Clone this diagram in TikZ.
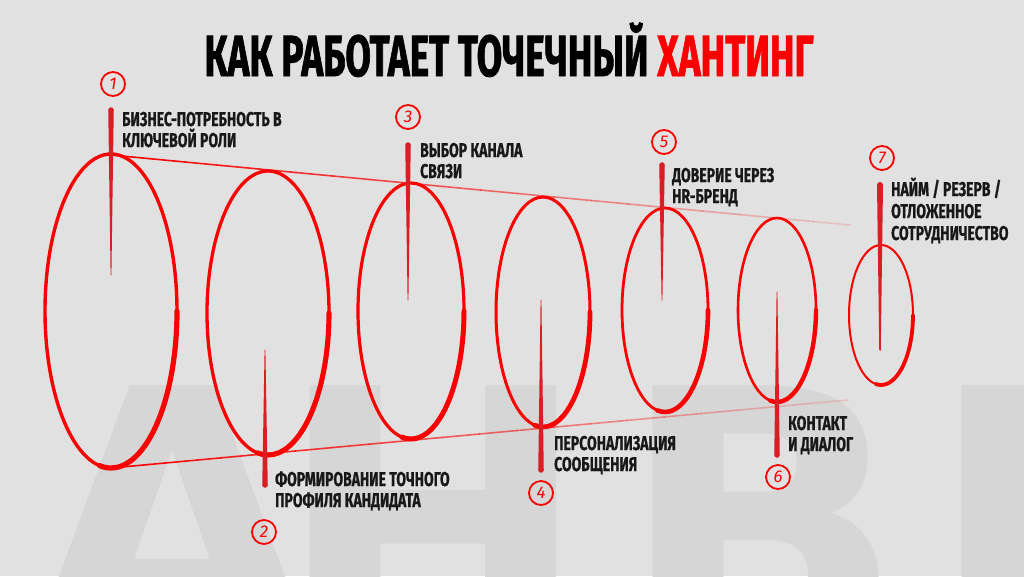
\documentclass[tikz,border=0pt]{standalone}
\usepackage{fontspec}
\usepackage{graphicx}
\setmainfont{Fira Sans}
\newfontfamily\condfont{Fira Sans}[FakeStretch=0.7, FakeBold=0.8]
\newfontfamily\titlefont{Fira Sans}[FakeBold=1.6]
\newfontfamily\wmfont{DejaVu Sans}
\usetikzlibrary{calc}

\definecolor{bg}{RGB}{225,225,225}
\definecolor{wmark}{RGB}{214,214,214}
\definecolor{red1}{RGB}{250,0,0}
\definecolor{red2}{RGB}{218,30,38}
\definecolor{ink}{RGB}{24,24,24}

\tikzstyle{ringline} = [draw=red1, line width=2.6pt]
\tikzstyle{ringthick} = [draw=red1, line width=4.6pt, line cap=round]
\tikzstyle{numcirc} = [circle, draw=red1, line width=1.8pt, minimum size=24pt, inner sep=0pt, text=red1, font=\itshape\fontsize{17}{17}\selectfont]
\tikzstyle{lbl} = [anchor=base west, align=left, inner sep=0pt, text=ink, font=\condfont\bfseries\fontsize{20}{21}\selectfont]
\tikzstyle{wm} = [anchor=base, inner sep=0pt, text=wmark, font=\wmfont\bfseries\fontsize{377}{377}\selectfont]

\begin{document}
\begin{tikzpicture}[x=1pt, y=-1pt]
    \useasboundingbox (0,0) rectangle (1024,576);
    \fill[bg] (0,0) rectangle (1024,576);

    % watermark
    \begin{scope}
        \clip (0,0) rectangle (1024,576);
        \node[wm] (w1) at (172,660) {А};
        \node[wm] (w2) at (433,660) {Н};
        \node[wm] (w3) at (762,660) {В};
        \node[wm] (w4) at (1085,660) {П};
    \end{scope}

    % title
    \node[anchor=base, inner sep=0pt] (title) at (509,76)
        {\resizebox{609pt}{\height}{\titlefont\bfseries\fontsize{58}{60}\selectfont КАК РАБОТАЕТ ТОЧЕЧНЫЙ \textcolor{red1}{ХАНТИНГ}}};

    % ellipses
    \foreach \cx/\cy/\rx/\ry/\w in {111/311/66/157/3.4, 268/313/61/142/3.3, 411/311/53/128/3.2,
                                  543/312/47/115/3.0, 665/310/43/102/2.8, 777/310/39/92/2.6, 881/315/32/70/2.0} {
        \draw[ringline, line width=\w pt] (\cx,\cy) ellipse [x radius=\rx, y radius=\ry];
        \draw[ringthick, line width=\w pt+1.8pt] (\cx,\cy) ++(0:\rx) arc [start angle=0, end angle=100, x radius=\rx, y radius=\ry];
    }

    % outline of the funnel
    \coordinate (t1) at (111,155);
    \coordinate (tend) at (850,225);
    \coordinate (b1) at (111,468);
    \coordinate (bend) at (848,400);
    \foreach \i in {0,...,19} {
        \pgfmathsetmacro{\op}{1-0.045*\i}
        \draw[red1, line width=1.6pt, opacity=\op] ($(t1)!\i/20!(tend)$) -- ($(t1)!\i/20+0.051!(tend)$);
        \draw[red1, line width=1.6pt, opacity=\op] ($(b1)!\i/20!(bend)$) -- ($(b1)!\i/20+0.051!(bend)$);
    }

    % brush marks
    \foreach \x/\ya/\wa/\yb/\wb in {111/110/5.5/275/0.8, 265/350/0.8/485/5.5, 408/145/5.5/300/0.8,
                                   541/300/0.8/470/5.5, 662/165/5.5/300/0.8, 777/292/0.8/455/5.5, 880/185/6/350/1.5} {
        \fill[red2] (\x-\wa/2,\ya) -- (\x+\wa/2,\ya) -- (\x+\wb/2,\yb) -- (\x-\wb/2,\yb) -- cycle;
        \fill[red2] (\x,\ya) circle (\wa/2);
        \fill[red2] (\x,\yb) circle (\wb/2);
    }

    % numbers
    \node[numcirc] (n1) at (113,84) {1};
    \node[numcirc] (n2) at (264,532) {2};
    \node[numcirc] (n3) at (408,117) {3};
    \node[numcirc] (n4) at (541,493) {4};
    \node[numcirc] (n5) at (664,142) {5};
    \node[numcirc] (n6) at (778,477) {6};
    \node[numcirc] (n7) at (882,158) {7};

    % labels (base = last line)
    \node[lbl] (l1) at (122,147) {БИЗНЕС-ПОТРЕБНОСТЬ В\\КЛЮЧЕВОЙ РОЛИ};
    \node[lbl] (l2) at (275,507) {ФОРМИРОВАНИЕ ТОЧНОГО\\ПРОФИЛЯ КАНДИДАТА};
    \node[lbl] (l3) at (420,178) {ВЫБОР КАНАЛА\\СВЯЗИ};
    \node[lbl] (l4) at (554,471) {ПЕРСОНАЛИЗАЦИЯ\\СООБЩЕНИЯ};
    \node[lbl] (l5) at (672,203) {ДОВЕРИЕ ЧЕРЕЗ\\HR-БРЕНД};
    \node[lbl] (l6) at (788,451) {КОНТАКТ\\И ДИАЛОГ};
    \node[lbl, font=\condfont\bfseries\fontsize{20}{22}\selectfont] (l7) at (891,240) {НАЙМ / РЕЗЕРВ /\\ОТЛОЖЕННОЕ\\СОТРУДНИЧЕСТВО};
\end{tikzpicture}
\end{document}
